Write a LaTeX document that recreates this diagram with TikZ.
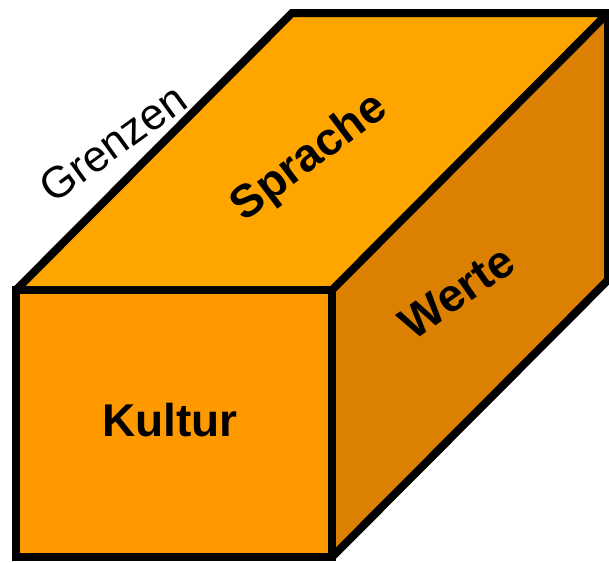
\documentclass[tikz,border=0pt]{standalone}
\usepackage{fontspec}
\setmainfont{Liberation Sans}
\usetikzlibrary{calc}
\definecolor{fronttone}{HTML}{FF9900}
\definecolor{toptone}{HTML}{FFA500}
\definecolor{sidetone}{HTML}{DB8000}

\begin{document}
\begin{tikzpicture}[x=1pt, y=-1pt,
  face/.style={draw=black, line width=8pt, line join=miter},
  lbl/.style={inner sep=0pt, font=\fontsize{46}{54}\selectfont\bfseries}]
\useasboundingbox (0,0) rectangle (609,562);
\def\dx{276}
\def\dy{277}
\coordinate (FTL) at (16, 290);
\coordinate (FTR) at (332, 290);
\coordinate (FBR) at (332, 557);
\coordinate (FBL) at (16, 557);
\foreach \p in {FTL, FTR, FBR} {
  \coordinate (\p-back) at ($(\p)+(\dx,-\dy)$);
}

\fill[toptone] (FTL) -- (FTL-back) -- (FTR-back) -- (FTR) -- cycle;
\fill[sidetone] (FTR) -- (FTR-back) -- (FBR-back) -- (FBR) -- cycle;
\fill[fronttone] (FTL) rectangle (FBR);
\draw[face] (FTL) -- (FTL-back) -- (FTR-back) -- (FTR);
\draw[face] (FTR-back) -- (FBR-back) -- (FBR);
\draw[face] (FTL) rectangle (FBR);

\node[lbl] (kultur) at (170, 420) {Kultur};
\node[lbl, rotate=37] (sprache) at (310, 158) {Sprache};
\node[lbl, rotate=35] (werte) at (457, 292) {Werte};
\node[inner sep=0pt, rotate=36, font=\fontsize{44}{52}\selectfont] (grenzen) at (113, 143) {Grenzen};
\end{tikzpicture}
\end{document}
